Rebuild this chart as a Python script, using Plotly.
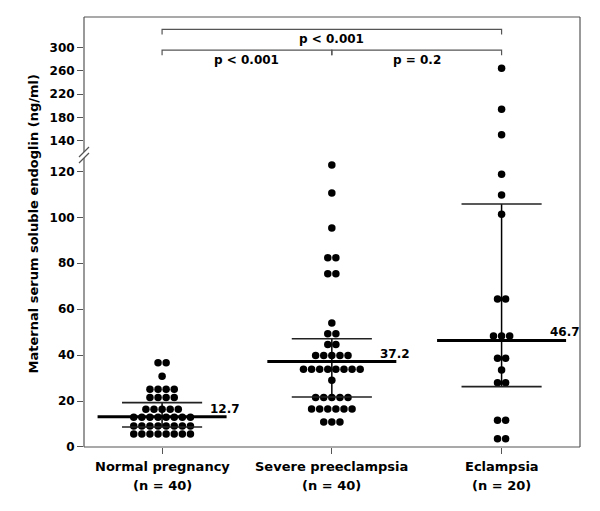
import plotly.graph_objects as go
from collections import Counter

# ---------------- data ----------------
categories = ["Normal pregnancy", "Severe preeclampsia", "Eclampsia"]
n_labels = ["(n = 40)", "(n = 40)", "(n = 20)"]

normal = [36.7, 36.7, 30.8,
          25.1, 25.1, 25.1, 25.1,
          21.6, 21.6, 21.6, 21.6,
          16.4, 16.4, 16.4, 16.4, 16.4,
          12.9, 12.9, 12.9, 12.9, 12.9, 12.9, 12.9, 12.9,
          9.1, 9.1, 9.1, 9.1, 9.1, 9.1, 9.1, 9.1,
          5.7, 5.7, 5.7, 5.7, 5.7, 5.7, 5.7, 5.7]

severe = [122.8, 110.6, 95.3, 82.4, 82.4, 75.4, 75.4,
          54.0, 49.3, 49.3, 44.6, 44.6,
          39.8, 39.8, 39.8, 39.8, 39.8,
          33.8, 33.8, 33.8, 33.8, 33.8, 33.8, 33.8, 33.8,
          29.1,
          21.6, 21.6, 21.6, 21.6, 21.6,
          16.5, 16.5, 16.5, 16.5, 16.5, 16.5,
          10.9, 10.9, 10.9]

eclampsia = [264.5, 194.0, 150.3, 118.7, 109.7, 101.3,
             64.4, 64.4, 48.3, 48.3, 48.3, 38.6, 38.6, 33.5,
             28.0, 28.0, 11.7, 11.7, 3.6, 3.6]

groups = [normal, severe, eclampsia]

median_line = [13.2, 37.2, 46.4]
median_text = ["12.7", "37.2", "46.7"]
upper_bar = [19.3, 47.1, 105.8]
lower_bar = [8.7, 21.8, 26.3]

# comparisons: (from category, to category, label, bracket level on upper axis)
comp_from = [0, 1, 0]
comp_to = [1, 2, 2]
comp_text = ["p < 0.001", "p = 0.2", "p < 0.001"]
comp_level = [296.0, 296.0, 331.7]

lower_ticks = [0, 20, 40, 60, 80, 100, 120]
upper_ticks = [140, 180, 220, 260, 300]

# ---------------- layout constants ----------------
BREAK = 130
FONT = "DejaVu Sans"
OFF = 8                      # page body margin offset
W, H = 600 - OFF, 511 - OFF
ML, MR, MT, MB = 84 - OFF, 20, 17 - OFF, 64
PW, PH = W - ML - MR, H - MT - MB
SPLIT = 0.6837
DOT_STEP = 0.0477


def px_y(p):
    # p: pixel row in final page
    return (H + OFF - MB - p) / PH


def px_x(p):
    return (p - OFF - ML) / PW


def swarm(vals, center, step=DOT_STEP):
    counts = Counter(vals)
    seen = {}
    xs = []
    for v in vals:
        k = seen.get(v, 0)
        seen[v] = k + 1
        xs.append(center + (k - (counts[v] - 1) / 2) * step)
    return xs


fig = go.Figure()

# dots
for i, vals in enumerate(groups):
    xs = swarm(vals, i)
    lo = [(x, v) for x, v in zip(xs, vals) if v < BREAK]
    hi = [(x, v) for x, v in zip(xs, vals) if v >= BREAK]
    for pts, ax in ((lo, "y"), (hi, "y2")):
        if pts:
            fig.add_trace(go.Scatter(
                x=[p[0] for p in pts], y=[p[1] for p in pts], yaxis=ax,
                mode="markers", marker=dict(size=7.5, color="black"),
                showlegend=False, hoverinfo="skip"))

# summary lines
vx, vy, wx, wy, mx, my = [], [], [], [], [], []
for i in range(3):
    vx += [i, i, None]
    vy += [lower_bar[i], upper_bar[i], None]
    for b in (upper_bar[i], lower_bar[i]):
        wx += [i - 0.236, i + 0.236, None]
        wy += [b, b, None]
    mx += [i - 0.38, i + 0.38, None]
    my += [median_line[i], median_line[i], None]

fig.add_trace(go.Scatter(x=vx, y=vy, mode="lines", line=dict(color="black", width=1.5),
                         showlegend=False, hoverinfo="skip"))
fig.add_trace(go.Scatter(x=wx, y=wy, mode="lines", line=dict(color="#222", width=1.6),
                         showlegend=False, hoverinfo="skip"))
fig.add_trace(go.Scatter(x=mx, y=my, mode="lines", line=dict(color="black", width=3),
                         showlegend=False, hoverinfo="skip"))

# comparison brackets
DROP = 9
bx, by = [], []
for a, b, lvl in zip(comp_from, comp_to, comp_level):
    bx += [a, a, b, b, None]
    by += [lvl - DROP, lvl, lvl, lvl - DROP, None]
fig.add_trace(go.Scatter(x=bx, y=by, yaxis="y2", mode="lines",
                         line=dict(color="#555", width=1.2),
                         showlegend=False, hoverinfo="skip", cliponaxis=False))

small_bold = dict(family=FONT, size=12, color="black", weight="bold")
big_bold = dict(family=FONT, size=13, color="black", weight="bold")

annotations = []
for a, b, t, lvl in zip(comp_from, comp_to, comp_text, comp_level):
    annotations.append(dict(x=(a + b) / 2, y=lvl, xref="x", yref="y2", text=t,
                            showarrow=False, yanchor="middle", yshift=-10,
                            font=small_bold))

for i in range(3):
    annotations.append(dict(x=i + 0.271, y=median_line[i], xref="x", yref="y",
                            text=median_text[i], showarrow=False, xanchor="left",
                            yanchor="middle", yshift=8, font=small_bold))
    annotations.append(dict(x=i, y=px_y(466), xref="x", yref="paper",
                            text=categories[i], showarrow=False,
                            yanchor="middle", font=big_bold))
    annotations.append(dict(x=i, y=px_y(486), xref="x", yref="paper",
                            text=n_labels[i], showarrow=False,
                            yanchor="middle", font=big_bold))

annotations.append(dict(x=px_x(24), y=px_y(224), xref="paper", yref="paper",
                        text="Maternal serum soluble endoglin (ng/ml)",
                        textangle=-90, showarrow=False, font=big_bold))

# frame with broken left spine
LC = "#555"
LW = 1.2
shapes = [
    dict(type="line", xref="paper", yref="paper", x0=0, x1=1, y0=1, y1=1, line=dict(color=LC, width=LW)),
    dict(type="line", xref="paper", yref="paper", x0=1, x1=1, y0=0, y1=1, line=dict(color=LC, width=LW)),
    dict(type="line", xref="paper", yref="paper", x0=0, x1=1, y0=0, y1=0, line=dict(color=LC, width=LW)),
    dict(type="line", xref="paper", yref="paper", x0=0, x1=0, y0=0, y1=px_y(158), line=dict(color=LC, width=LW)),
    dict(type="line", xref="paper", yref="paper", x0=0, x1=0, y0=px_y(152), y1=1, line=dict(color=LC, width=LW)),
    dict(type="line", xref="paper", yref="paper", x0=px_x(79), x1=px_x(89), y0=px_y(157), y1=px_y(147), line=dict(color=LC, width=LW)),
    dict(type="line", xref="paper", yref="paper", x0=px_x(79), x1=px_x(89), y0=px_y(163), y1=px_y(153), line=dict(color=LC, width=LW)),
]

axis_common = dict(showgrid=False, zeroline=False, showline=False, ticks="outside",
                   ticklen=6, tickcolor=LC, tickwidth=1.2,
                   tickfont=small_bold)

fig.update_layout(
    width=W, height=H,
    margin=dict(l=ML, r=MR, t=MT, b=MB, pad=0),
    paper_bgcolor="white", plot_bgcolor="white",
    xaxis=dict(range=[-0.46, 2.462], tickvals=[0, 1, 2], showticklabels=False,
               showgrid=False, zeroline=False, showline=False, ticks="outside",
               ticklen=6, tickcolor=LC, tickwidth=1.2, anchor="y"),
    yaxis=dict(domain=[0, SPLIT], range=[0, 128.0], tickvals=lower_ticks, **axis_common),
    yaxis2=dict(domain=[SPLIT, 1], range=[118.83, 352.9], tickvals=upper_ticks,
                anchor="x", **axis_common),
    shapes=shapes,
    annotations=annotations,
    showlegend=False,
)

fig.write_html("out.html")
